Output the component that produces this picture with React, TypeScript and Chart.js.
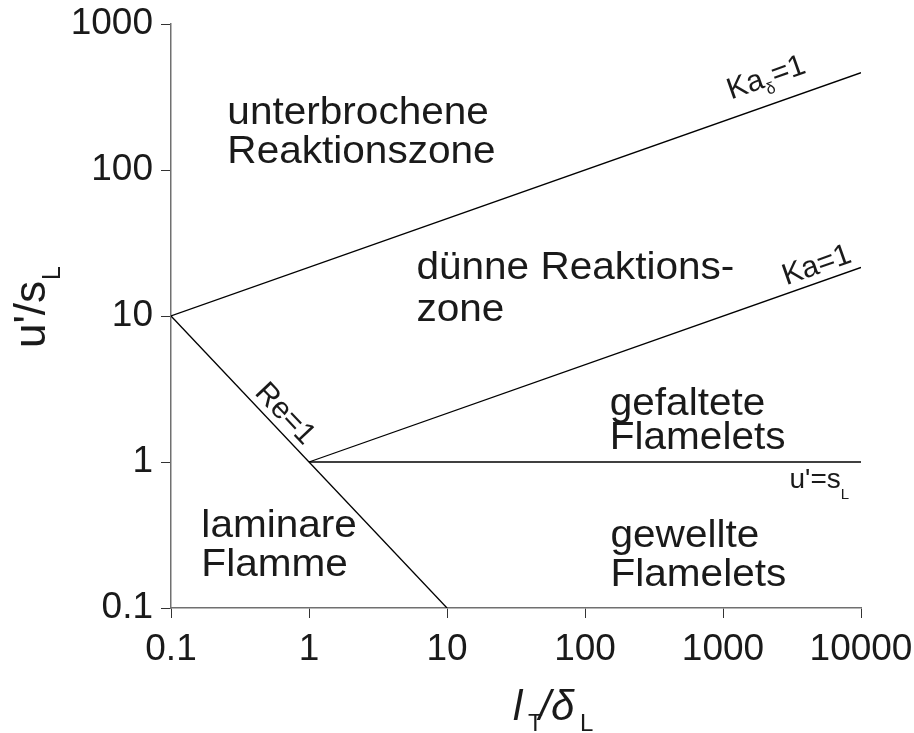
import React, { useEffect, useRef } from 'react';
import { Chart, registerables } from 'chart.js';

Chart.register(...registerables);

const FONT = '"Liberation Sans", Arial, Helvetica, sans-serif';
const INK = '#1a1a1a';
const AXIS = '#707070';

// Axis ticks (log scales)
const xTickValues = [0.1, 1, 10, 100, 1000, 10000];
const xTickLabels = ['0.1', '1', '10', '100', '1000', '10000'];
const yTickValues = [0.1, 1, 10, 100, 1000];
const yTickLabels = ['0.1', '1', '10', '100', '1000'];

// Regime boundaries: x = l_T/δ_L, y = u'/s_L
const kaDeltaX = [0.1, 10000];
const kaDeltaY = [10, 464];
const kaX = [1, 10000];
const kaY = [1, 21.5];
const reX = [0.1, 10];
const reY = [10, 0.1];
const speedX = [1, 10000];
const speedY = [1, 1];

const boundaries = [
  { xs: kaDeltaX, ys: kaDeltaY },
  { xs: kaX, ys: kaY },
  { xs: reX, ys: reY },
  { xs: speedX, ys: speedY },
];

// Regime names, anchored at the first line's baseline start (data coords)
const regionLabels = [
  { lines: ['unterbrochene', 'Reaktionszone'], x: 0.256, y: 205, lh: 39 },
  { lines: ['dünne Reaktions-', 'zone'], x: 6.0, y: 17.9, lh: 42 },
  { lines: ['gefaltete', 'Flamelets'], x: 151, y: 2.1, lh: 34 },
  { lines: ['laminare', 'Flamme'], x: 0.166, y: 0.307, lh: 39 },
  { lines: ['gewellte', 'Flamelets'], x: 153, y: 0.26, lh: 39 },
];

type Part = [string, number];

// Labels written along a boundary line: which line, where along it, gap above it
const lineLabels: { parts: Part[]; line: number; atX: number; gap: number }[] = [
  { parts: [['Ka', 0], ['δ', 1], ['=1', 0]], line: 0, atX: 1265, gap: 18 },
  { parts: [['Ka=1', 0]], line: 1, atX: 3000, gap: 8 },
  { parts: [['Re=1', 0]], line: 2, atX: 0.366, gap: 7 },
];

const drawParts = (ctx: CanvasRenderingContext2D, parts: Part[], size: number, subSize: number, subShift: number) => {
  let x = 0;
  for (const [txt, sub] of parts) {
    ctx.font = `${sub ? subSize : size}px ${FONT}`;
    ctx.fillText(txt, x, sub ? subShift : 0);
    x += ctx.measureText(txt).width + (sub ? 1 : 0);
  }
};

const annotations = {
  id: 'borghiAnnotations',
  afterDatasetsDraw(chart: any) {
    const ctx: CanvasRenderingContext2D = chart.ctx;
    const xs = chart.scales.x;
    const ys = chart.scales.y;
    ctx.save();
    ctx.fillStyle = INK;
    ctx.textAlign = 'left';
    ctx.textBaseline = 'alphabetic';

    for (const r of regionLabels) {
      const px = xs.getPixelForValue(r.x);
      const py = ys.getPixelForValue(r.y);
      ctx.save();
      ctx.translate(px, py);
      ctx.scale(1.04, 1);
      ctx.font = `39px ${FONT}`;
      r.lines.forEach((t, i) => ctx.fillText(t, 0, i * r.lh));
      ctx.restore();
    }

    for (const l of lineLabels) {
      const b = boundaries[l.line];
      const x0 = xs.getPixelForValue(b.xs[0]);
      const y0 = ys.getPixelForValue(b.ys[0]);
      const x1 = xs.getPixelForValue(b.xs[1]);
      const y1 = ys.getPixelForValue(b.ys[1]);
      const ax = xs.getPixelForValue(l.atX);
      const ay = y0 + ((ax - x0) / (x1 - x0)) * (y1 - y0);
      const ang = Math.atan2(y1 - y0, x1 - x0);
      ctx.save();
      ctx.translate(ax, ay);
      ctx.rotate(ang);
      ctx.translate(0, -l.gap);
      drawParts(ctx, l.parts, 30, 16, 8);
      ctx.restore();
    }

    // u'=s_L below the horizontal boundary
    ctx.save();
    ctx.translate(xs.getPixelForValue(3035), ys.getPixelForValue(1) + 26);
    drawParts(ctx, [["u'=s", 0], ['L', 1]], 28, 15, 11);
    ctx.restore();

    // y-axis title: u'/s_L
    ctx.save();
    ctx.translate(45, 348);
    ctx.rotate(-Math.PI / 2);
    ctx.font = `44px ${FONT}`;
    ctx.fillText("u'/s", 0, 0);
    const w = ctx.measureText("u'/s").width;
    ctx.font = `25px ${FONT}`;
    ctx.fillText('L', w + 1, 15);
    ctx.restore();

    // x-axis title: l_T/δ_L
    ctx.font = `italic 42px ${FONT}`;
    ctx.fillText('l', 513, 720);
    ctx.font = `24px ${FONT}`;
    ctx.fillText('T', 528, 731);
    ctx.font = `italic 42px ${FONT}`;
    ctx.fillText('/', 539, 720);
    ctx.fillText('δ', 551, 720);
    ctx.font = `24px ${FONT}`;
    ctx.fillText('L', 580, 731);

    ctx.restore();
  },
};

export default function App() {
  const ref = useRef<HTMLCanvasElement | null>(null);

  useEffect(() => {
    document.body.style.margin = '0';
    const canvas = ref.current;
    if (!canvas) return;

    const datasets = boundaries.map((b) => ({
      data: b.xs.map((x, i) => ({ x, y: b.ys[i] })),
      showLine: true,
      borderColor: '#000',
      borderWidth: 1.3,
      pointRadius: 0,
      fill: false,
    }));

    const axisCommon = {
      type: 'logarithmic' as const,
      border: { display: true, color: AXIS, width: 1.5 },
      grid: { drawOnChartArea: false, drawTicks: true, tickLength: 10, color: '#333', lineWidth: 1 },
    };

    const chart = new Chart(canvas, {
      type: 'scatter',
      data: { datasets },
      plugins: [annotations],
      options: {
        responsive: false,
        animation: false,
        devicePixelRatio: 1,
        layout: { padding: { top: 24, right: 53, bottom: 0, left: 0 } },
        plugins: { legend: { display: false }, tooltip: { enabled: false }, title: { display: false } },
        scales: {
          x: {
            ...axisCommon,
            min: 0.1,
            max: 10000,
            afterBuildTicks: (s: any) => { s.ticks = xTickValues.map((v) => ({ value: v })); },
            afterFit: (s: any) => { s.height = 125; s.paddingLeft = 0; s.paddingRight = 0; },
            ticks: {
              autoSkip: false,
              maxRotation: 0,
              padding: 10,
              color: INK,
              font: { family: FONT, size: 37 },
              callback: (_v: any, i: number) => xTickLabels[i],
            },
          },
          y: {
            ...axisCommon,
            min: 0.1,
            max: 1000,
            afterBuildTicks: (s: any) => { s.ticks = yTickValues.map((v) => ({ value: v })); },
            afterFit: (s: any) => { s.width = 171; s.paddingTop = 0; s.paddingBottom = 0; },
            ticks: {
              autoSkip: false,
              padding: 8,
              color: INK,
              font: { family: FONT, size: 37 },
              callback: (_v: any, i: number) => yTickLabels[i],
            },
          },
        },
      },
    } as any);

    return () => chart.destroy();
  }, []);

  return <canvas ref={ref} width={914} height={733} style={{ display: 'block', width: 914, height: 733 }} />;
}
